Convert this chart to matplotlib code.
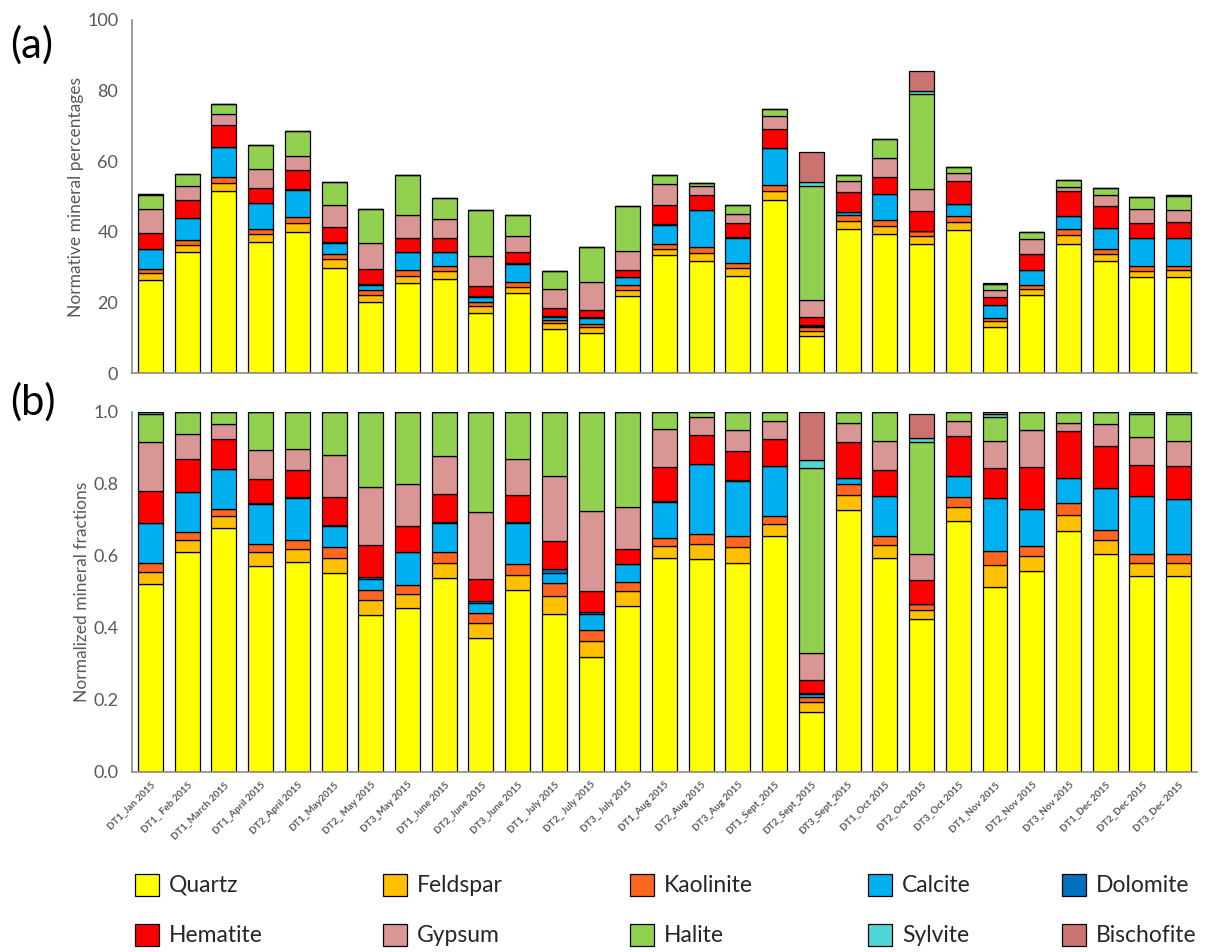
"""Stacked mineral composition bars: percentages (a) and normalized fractions (b)."""

import matplotlib

matplotlib.use("Agg")
import matplotlib.pyplot as plt
import numpy as np
from matplotlib.patches import Rectangle

plt.rcParams["font.family"] = ["Lato", "DejaVu Sans"]

samples = [
    "DT1_Jan 2015", "DT1_ Feb 2015", "DT1_March 2015", "DT1_April 2015",
    "DT2_April 2015", "DT1_May2015", "DT2_ May 2015", "DT3_May 2015",
    "DT1_June 2015", "DT2_June 2015", "DT3_June 2015", "DT1_ July 2015",
    "DT2_ July 2015", "DT3_ July 2015", "DT1_Aug 2015", "DT2_Aug 2015",
    "DT3_Aug 2015", "DT1_Sept_2015", "DT2_Sept_2015", "DT3_Sept_2015",
    "DT1_Oct 2015", "DT2_Oct 2015", "DT3_Oct 2015", "DT1_Nov 2015",
    "DT2_Nov 2015", "DT3_Nov 2015", "DT1_Dec 2015", "DT2_Dec 2015",
    "DT3_Dec 2015",
]

minerals = ["Quartz", "Feldspar", "Kaolinite", "Calcite", "Dolomite",
            "Hematite", "Gypsum", "Halite", "Sylvite", "Bischofite"]
colors = ["#ffff00", "#ffc000", "#ff6621", "#00b0f0", "#0070c0",
          "#ff0000", "#da9694", "#92d050", "#4fd6d6", "#cb7371"]

# total normative percentage per sample (panel a bar heights)
totals = [50.8, 56.5, 76.1, 64.7, 68.5, 54.2, 46.6, 56.1, 49.7, 46.1,
          44.8, 28.9, 35.7, 47.2, 56.2, 53.9, 47.6, 74.9, 62.6, 56.1,
          66.2, 85.6, 58.3, 25.5, 39.9, 54.6, 52.3, 50.0, 50.4]

# normalized fractions (panel b), one list per mineral
quartz = [.521, .609, .678, .572, .583, .552, .434, .456, .538, .371,
          .505, .437, .320, .461, .595, .590, .581, .656, .167, .727,
          .595, .425, .697, .514, .557, .669, .606, .544, .543]
feldspar = [.035, .035, .031, .038, .036, .042, .042, .037, .043, .041,
            .041, .052, .044, .040, .033, .043, .044, .032, .026, .042,
            .036, .025, .039, .060, .042, .045, .038, .036, .037]
kaolinite = [.025, .023, .021, .023, .025, .031, .029, .026, .029, .028,
             .030, .036, .030, .025, .021, .028, .029, .023, .015, .029,
             .023, .016, .028, .040, .029, .033, .027, .025, .024]
calcite = [.109, .110, .111, .110, .115, .057, .031, .092, .080, .030,
           .116, .026, .043, .050, .099, .194, .153, .139, .007, .018,
           .113, 0, .057, .145, .102, .068, .117, .162, .153]
dolomite = [0, 0, 0, .003, .003, .004, .006, 0, .003, .005,
            .002, .011, .006, 0, .003, 0, .003, 0, .005, 0,
            0, 0, 0, 0, 0, 0, 0, 0, 0]
hematite = [.089, .092, .083, .066, .076, .077, .089, .072, .078, .060,
            .075, .078, .058, .042, .096, .080, .081, .074, .036, .099,
            .071, .066, .111, .084, .117, .132, .118, .086, .093]
gypsum = [.137, .070, .041, .082, .059, .118, .161, .117, .107, .187,
          .100, .181, .222, .116, .106, .049, .058, .049, .075, .055,
          .081, .073, .041, .076, .102, .021, .060, .078, .068]
halite = [.079, .059, .035, .106, .103, .119, .208, .200, .122, .278,
          .131, .179, .277, .266, .047, .016, .051, .027, .514, .030,
          .081, .312, .027, .067, .051, .032, .034, .064, .077]
sylvite = [.005, .002, 0, 0, 0, 0, 0, 0, 0, 0,
           0, 0, 0, 0, 0, 0, 0, 0, .020, 0,
           0, .009, 0, .008, 0, 0, 0, .005, .005]
bischofite = [0, 0, 0, 0, 0, 0, 0, 0, 0, 0,
              0, 0, 0, 0, 0, 0, 0, 0, .135, 0,
              0, .067, 0, .006, 0, 0, 0, 0, 0]

fractions = np.array([quartz, feldspar, kaolinite, calcite, dolomite,
                      hematite, gypsum, halite, sylvite, bischofite])
percent = fractions / fractions.sum(axis=0) * np.array(totals)

fig = plt.figure(figsize=(12.06, 9.52), dpi=100)
ax_a = fig.add_axes([0.1095, 0.608, 0.883, 0.371])
ax_b = fig.add_axes([0.1095, 0.1894, 0.883, 0.3781])

x = np.arange(len(samples))
grey = "#595959"


def stack(ax, data):
    bottom = np.zeros(len(samples))
    for values, color in zip(data, colors):
        ax.bar(x, values, 0.68, bottom=bottom, color=color,
               edgecolor="black", linewidth=0.9)
        bottom += values
    ax.set_xlim(-0.5, len(samples) - 0.5)
    for side in ("top", "right"):
        ax.spines[side].set_visible(False)
    for side in ("left", "bottom"):
        ax.spines[side].set_color("#8c8c8c")
        ax.spines[side].set_linewidth(1.2)
    ax.tick_params(axis="both", length=0, labelsize=13, labelcolor=grey, pad=10)


stack(ax_a, percent)
ax_a.set_ylim(0, 100)
ax_a.set_yticks([0, 20, 40, 60, 80, 100])
ax_a.set_xticks([])
ax_a.set_ylabel("Normative mineral percentages", fontsize=12.5, color=grey, labelpad=2)

stack(ax_b, fractions)
ax_b.set_ylim(0, 1.0)
ax_b.set_yticks([0, 0.2, 0.4, 0.6, 0.8, 1.0])
ax_b.set_yticklabels(["0.0", "0.2", "0.4", "0.6", "0.8", "1.0"])
ax_b.set_xticks(x)
ax_b.set_xticklabels(samples, rotation=45, ha="right", rotation_mode="anchor",
                     fontsize=7, fontweight="bold", color=grey)
ax_b.tick_params(axis="x", pad=6)
ax_b.set_ylabel("Normalized mineral fractions", fontsize=12.5, color=grey, labelpad=2)

fig.text(0.008, 0.953, "(a)", fontsize=30, va="center")
fig.text(0.008, 0.578, "(b)", fontsize=30, va="center")

# legend: two rows of five
col_x = [135, 383, 630, 868, 1062]
row_y = [885, 935]
for i, (name, color) in enumerate(zip(minerals, colors)):
    px = col_x[i % 5]
    py = row_y[i // 5]
    fig.add_artist(Rectangle((px / 1206, 1 - (py + 11) / 952), 24 / 1206, 22 / 952,
                             transform=fig.transFigure, facecolor=color,
                             edgecolor="black", linewidth=0.9))
    fig.text((px + 34) / 1206, 1 - py / 952, name, fontsize=16.5, color="#262626",
             va="center", ha="left")

fig.savefig("out.png", dpi=100)
